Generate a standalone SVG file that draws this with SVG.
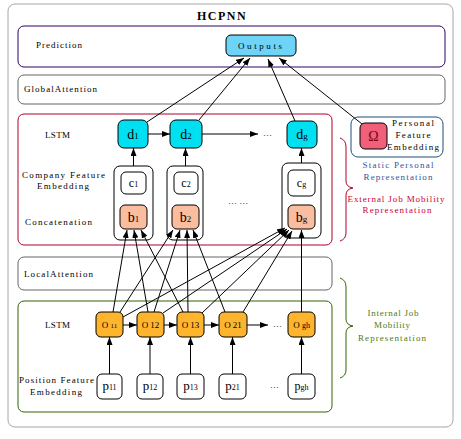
<svg xmlns="http://www.w3.org/2000/svg" width="461" height="439" viewBox="0 0 461 439">
<defs>
<marker id="ah" markerWidth="8" markerHeight="6" refX="8" refY="3" orient="auto" markerUnits="userSpaceOnUse">
<path d="M0,0 L8,3 L0,6 Z" fill="#000"/>
</marker>
<style>
.lbl{font-family:"Liberation Serif",serif;font-size:9px;fill:#000}
.nd{font-family:"Liberation Serif",serif;fill:#000;text-anchor:middle}
.blue{fill:#2f5597}
.red{fill:#cc0033}
.green{fill:#4d7a1a}
.edge{stroke:#000;stroke-width:1;fill:none;marker-end:url(#ah)}
.node{stroke:#000;stroke-width:1}
</style>
</defs>
<rect width="461" height="439" fill="#fff"/>

<g id="outer">
<rect x="8" y="4" width="445" height="423" rx="7" fill="#fff" stroke="#a6a6a6"/>
<text x="222" y="20" font-family="Liberation Serif,serif" font-size="12" font-weight="bold" text-anchor="middle" letter-spacing="1.5">HCPNN</text>
</g>

<g id="prediction-layer">
<rect x="18" y="26" width="427" height="41" rx="6" fill="#fff" stroke="#330066"/>
<text class="lbl" x="36" y="48" textLength="46" lengthAdjust="spacing">Prediction</text>
</g>
<g id="global-attention">
<rect x="18" y="75" width="427" height="29" rx="6" fill="#fff" stroke="#666"/>
<text class="lbl" x="24" y="92" textLength="73" lengthAdjust="spacing">GlobalAttention</text>
</g>
<g id="external-box">
<rect x="18" y="114" width="314" height="131" rx="6" fill="#fff" stroke="#b3002d"/>
<text class="lbl" x="45" y="138" textLength="25" lengthAdjust="spacing">LSTM</text>
<text class="lbl" x="22" y="178" textLength="83" lengthAdjust="spacing">Company Feature</text>
<text class="lbl" x="37" y="189" textLength="52" lengthAdjust="spacing">Embedding</text>
<text class="lbl" x="25" y="225" textLength="67" lengthAdjust="spacing">Concatenation</text>
<text class="lbl" x="228" y="204">… …</text>
<text class="lbl" x="263" y="136">…</text>
</g>
<g id="local-attention">
<rect x="18" y="257" width="314" height="33" rx="6" fill="#fff" stroke="#666"/>
<text class="lbl" x="24" y="277" textLength="69" lengthAdjust="spacing">LocalAttention</text>
</g>
<g id="internal-box">
<rect x="18" y="301" width="314" height="111" rx="6" fill="#fff" stroke="#336600"/>
<text class="lbl" x="45" y="328" textLength="25" lengthAdjust="spacing">LSTM</text>
<text class="lbl" x="19" y="383" textLength="75" lengthAdjust="spacing">Position Feature</text>
<text class="lbl" x="30" y="395" textLength="52" lengthAdjust="spacing">Embedding</text>
<text class="lbl" x="273" y="327">…</text>
<text class="lbl" x="270" y="388">…</text>
</g>

<g id="outputs">
<rect class="node" x="226" y="35" width="70" height="21" rx="5" fill="#6dd3f7"/>
<text class="nd" x="260" y="49" font-size="9" textLength="44" lengthAdjust="spacing">Outputs</text>
</g>

<g id="personal-box">
<rect x="351" y="117" width="92" height="40" rx="7" fill="#fff" stroke="#1f4e79"/>
<text class="nd" x="413" y="126" font-size="9" textLength="42" lengthAdjust="spacing">Personal</text>
<text class="nd" x="413" y="138" font-size="9" textLength="35" lengthAdjust="spacing">Feature</text>
<text class="nd" x="413" y="150" font-size="9" textLength="52" lengthAdjust="spacing">Embedding</text>
</g>
<g id="omega">
<rect class="node" x="360" y="123" width="27" height="26" rx="5" fill="#f0607a"/>
<text class="nd" x="373.5" y="141" font-size="14" style="fill:#7a0010">Ω</text>
</g>
<g id="static-label">
<text class="nd blue" x="398" y="168" font-size="9" textLength="71" lengthAdjust="spacing">Static Personal</text>
<text class="nd blue" x="398" y="180" font-size="9" textLength="69" lengthAdjust="spacing">Representation</text>
</g>
<g id="external-label">
<path d="M340,138 Q346,140 346,147 L346,181 Q346,187 353,188 Q346,189 346,195 L346,233 Q346,239 340,241" fill="none" stroke="#b3002d"/>
<text class="nd red" x="396" y="202" font-size="9" textLength="97" lengthAdjust="spacing">External Job Mobility</text>
<text class="nd red" x="397" y="213" font-size="9" textLength="69" lengthAdjust="spacing">Representation</text>
</g>
<g id="internal-label">
<path d="M340,278 Q346,280 346,287 L346,319 Q346,325 353,326 Q346,327 346,333 L346,370 Q346,376 340,378" fill="none" stroke="#336600"/>
<text class="nd green" x="393" y="316" font-size="9" textLength="51" lengthAdjust="spacing">Internal Job</text>
<text class="nd green" x="392" y="328" font-size="9" textLength="36" lengthAdjust="spacing">Mobility</text>
<text class="nd green" x="392" y="341" font-size="9" textLength="68" lengthAdjust="spacing">Representation</text>
</g>

<g id="d1"><rect class="node" x="118" y="120" width="30" height="28" rx="6" fill="#00e0f0"/><text class="nd" x="133" y="139" font-size="14">d<tspan font-size="9">1</tspan></text></g>
<g id="d2"><rect class="node" x="170" y="120" width="32" height="28" rx="6" fill="#00e0f0"/><text class="nd" x="186" y="139" font-size="14">d<tspan font-size="9">2</tspan></text></g>
<g id="dg"><rect class="node" x="287" y="121" width="30" height="27" rx="6" fill="#00e0f0"/><text class="nd" x="302" y="139" font-size="14">d<tspan font-size="9">g</tspan></text></g>

<g id="concat1"><rect x="114" y="166" width="39" height="74" rx="6" fill="#fff" stroke="#000"/></g>
<g id="concat2"><rect x="167" y="166" width="36" height="74" rx="6" fill="#fff" stroke="#000"/></g>
<g id="concatg"><rect x="282" y="163" width="39" height="75" rx="6" fill="#fff" stroke="#000"/></g>

<g id="c1"><rect class="node" x="121" y="172" width="25" height="22" rx="5" fill="#fff"/><text class="nd" x="133.5" y="187" font-size="12">c<tspan font-size="8">1</tspan></text></g>
<g id="c2"><rect class="node" x="174" y="172" width="24" height="22" rx="5" fill="#fff"/><text class="nd" x="186" y="187" font-size="12">c<tspan font-size="8">2</tspan></text></g>
<g id="cg"><rect class="node" x="288" y="170" width="27" height="26" rx="5" fill="#fff"/><text class="nd" x="301.5" y="187" font-size="12">c<tspan font-size="8">g</tspan></text></g>

<g id="b1"><rect class="node" x="120" y="205" width="27" height="24" rx="5" fill="#fbbd9f"/><text class="nd" x="133.5" y="222" font-size="14">b<tspan font-size="9">1</tspan></text></g>
<g id="b2"><rect class="node" x="172" y="205" width="27" height="24" rx="5" fill="#fbbd9f"/><text class="nd" x="185.5" y="222" font-size="14">b<tspan font-size="9">2</tspan></text></g>
<g id="bg"><rect class="node" x="288" y="205" width="27" height="24" rx="5" fill="#fbbd9f"/><text class="nd" x="301.5" y="222" font-size="14">b<tspan font-size="9">g</tspan></text></g>

<g id="o11"><rect class="node" x="96" y="312" width="27" height="25" rx="5" fill="#ffb42e"/><text class="nd" x="109.5" y="328" font-size="9">O <tspan font-size="7">11</tspan></text></g>
<g id="o12"><rect class="node" x="137" y="312" width="27" height="25" rx="5" fill="#ffb42e"/><text class="nd" x="150.5" y="328" font-size="9">O 12</text></g>
<g id="o13"><rect class="node" x="177" y="312" width="27" height="25" rx="5" fill="#ffb42e"/><text class="nd" x="190.5" y="328" font-size="9">O 13</text></g>
<g id="o21"><rect class="node" x="219" y="312" width="28" height="25" rx="5" fill="#ffb42e"/><text class="nd" x="233" y="328" font-size="9">O 21</text></g>
<g id="ogh"><rect class="node" x="288" y="312" width="27" height="25" rx="5" fill="#ffb42e"/><text class="nd" x="301.5" y="328" font-size="9">O <tspan font-size="8">gh</tspan></text></g>

<g id="p11"><rect class="node" x="97" y="374" width="25" height="25" rx="5" fill="#fff"/><text class="nd" x="109.5" y="390" font-size="13">p<tspan font-size="8">11</tspan></text></g>
<g id="p12"><rect class="node" x="137" y="374" width="26" height="25" rx="5" fill="#fff"/><text class="nd" x="150" y="390" font-size="13">p<tspan font-size="8">12</tspan></text></g>
<g id="p13"><rect class="node" x="177" y="374" width="27" height="25" rx="5" fill="#fff"/><text class="nd" x="190.5" y="390" font-size="13">p<tspan font-size="8">13</tspan></text></g>
<g id="p21"><rect class="node" x="219" y="374" width="27" height="25" rx="5" fill="#fff"/><text class="nd" x="232.5" y="390" font-size="13">p<tspan font-size="8">21</tspan></text></g>
<g id="pgh"><rect class="node" x="288" y="374" width="27" height="25" rx="5" fill="#fff"/><text class="nd" x="301.5" y="390" font-size="12">p<tspan font-size="8">gh</tspan></text></g>

<g id="connectors">
<line class="edge" x1="147" y1="122" x2="244" y2="58"/>
<line class="edge" x1="199" y1="120" x2="250" y2="58"/>
<line class="edge" x1="295" y1="121" x2="268" y2="59"/>
<line class="edge" x1="362" y1="124" x2="279" y2="58"/>
<line class="edge" x1="148" y1="134" x2="170" y2="134"/>
<line class="edge" x1="202" y1="134" x2="258" y2="134"/>
<line class="edge" x1="133.5" y1="166" x2="133.5" y2="148"/>
<line class="edge" x1="185.5" y1="166" x2="185.5" y2="148"/>
<line class="edge" x1="301.5" y1="163" x2="301.5" y2="148"/>
<line class="edge" x1="123" y1="325" x2="137" y2="325"/>
<line class="edge" x1="164" y1="325" x2="177" y2="325"/>
<line class="edge" x1="204" y1="325" x2="219" y2="325"/>
<line class="edge" x1="247" y1="325" x2="268" y2="325"/>
<line class="edge" x1="109.5" y1="374" x2="109.5" y2="337"/>
<line class="edge" x1="150" y1="374" x2="150" y2="337"/>
<line class="edge" x1="190.5" y1="374" x2="190.5" y2="337"/>
<line class="edge" x1="232.5" y1="374" x2="232.5" y2="337"/>
<line class="edge" x1="301.5" y1="374" x2="301.5" y2="337"/>
<line class="edge" x1="113" y1="312" x2="127" y2="230"/>
<line class="edge" x1="148" y1="312" x2="134" y2="230"/>
<line class="edge" x1="183" y1="312" x2="141" y2="230"/>
<line class="edge" x1="120" y1="312" x2="173" y2="230"/>
<line class="edge" x1="154" y1="312" x2="180" y2="230"/>
<line class="edge" x1="188" y1="312" x2="187" y2="230"/>
<line class="edge" x1="225" y1="312" x2="193" y2="230"/>
<line class="edge" x1="123" y1="317" x2="285" y2="228"/>
<line class="edge" x1="163" y1="313" x2="287" y2="229"/>
<line class="edge" x1="202" y1="313" x2="289" y2="230"/>
<line class="edge" x1="243" y1="312" x2="292" y2="231"/>
<line class="edge" x1="301.5" y1="312" x2="301.5" y2="230"/>
</g>
</svg>
